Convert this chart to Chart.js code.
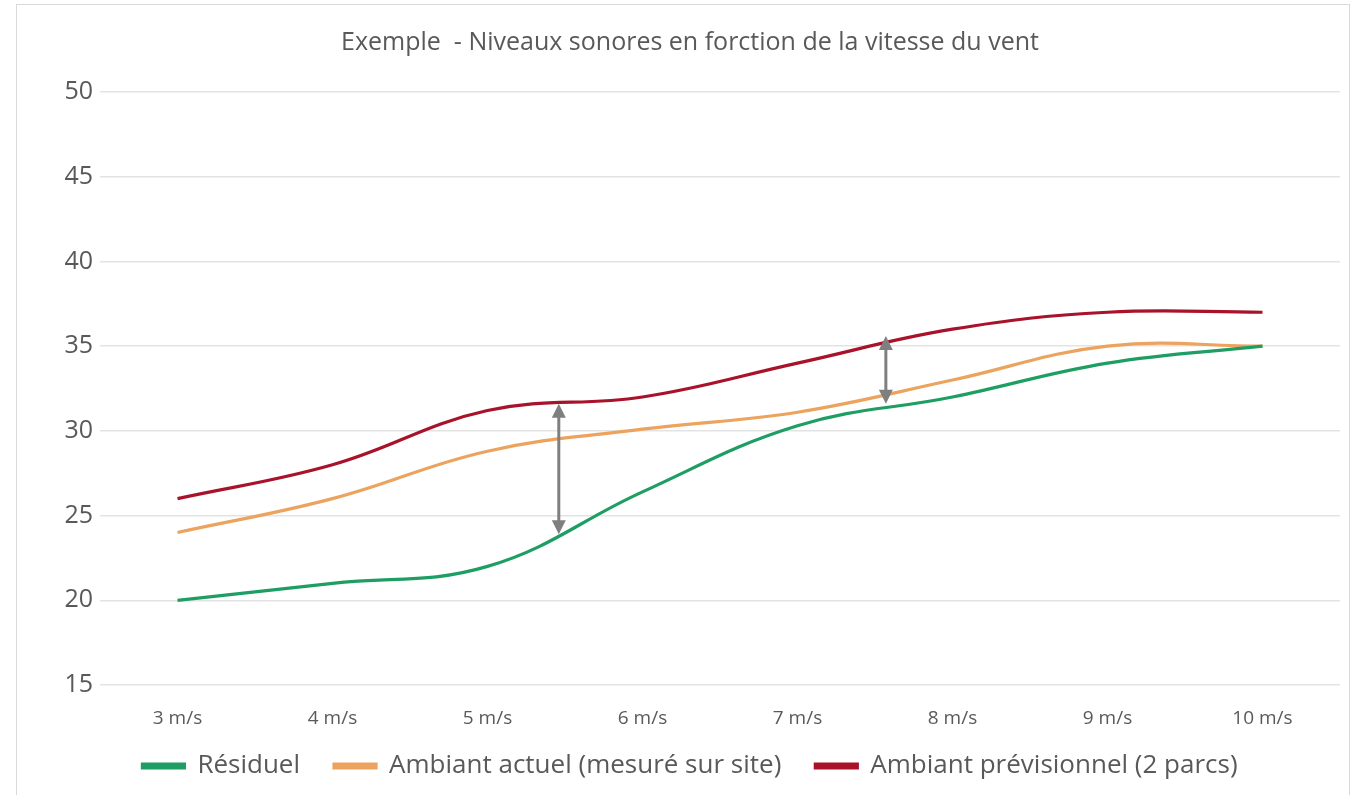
<!DOCTYPE html>
<html>
<head>
<meta charset="utf-8">
<script src="https://cdn.jsdelivr.net/npm/chart.js@4.4.0/dist/chart.umd.min.js"></script>
<style>
html,body{margin:0;padding:0;background:#fff;}
#wrap{position:absolute;left:0;top:0;width:1354px;height:795px;}
</style>
</head>
<body>
<div id="wrap"><canvas id="c" width="1354" height="795"></canvas></div>
<script>
const categories = ['3 m/s','4 m/s','5 m/s','6 m/s','7 m/s','8 m/s','9 m/s','10 m/s'];
const residuel = [20, 21, 22, 26.4, 30.3, 32, 34, 35];
const ambiantActuel = [24, 26, 28.8, 30.1, 31.1, 33, 35, 35];
const ambiantPrevisionnel = [26, 28, 31.2, 32, 34, 36, 37, 37];
const seriesNames = ['Résiduel', 'Ambiant actuel (mesuré sur site)', 'Ambiant prévisionnel (2 parcs)'];
const titleText = 'Exemple  - Niveaux sonores en forction de la vitesse du vent';
const yMin = 15, yMax = 50, yStep = 5;
// double arrows (category index position, top value, bottom value)
const arrowX = [2.46, 4.57];
const arrowTop = [31.6, 35.6];
const arrowBottom = [23.9, 31.6];

const FONT = "'Open Sans', 'Liberation Sans', sans-serif";
const TXT = '#595959';

const framePlugin = {
  id: 'frame',
  beforeDraw(chart) {
    const ctx = chart.ctx;
    ctx.save();
    ctx.fillStyle = '#fff';
    ctx.fillRect(0, 0, chart.width, chart.height);
    ctx.strokeStyle = '#d9d9d9';
    ctx.lineWidth = 1;
    ctx.strokeRect(16.5, 4.5, 1333, 800);
    ctx.restore();
  }
};

// move the legend row to its place under the axis labels
const legendPlacePlugin = {
  id: 'legendPlace',
  afterLayout(chart) {
    const lg = chart.legend;
    if (!lg) return;
    const h = lg.height;
    lg.top = 719;
    lg.bottom = 719 + h;
  }
};

const arrowPlugin = {
  id: 'arrows',
  afterDatasetsDraw(chart) {
    const ctx = chart.ctx;
    const xs = chart.scales.x, ys = chart.scales.y;
    ctx.save();
    ctx.strokeStyle = '#7f7f7f';
    ctx.fillStyle = '#7f7f7f';
    ctx.lineWidth = 3;
    for (let i = 0; i < arrowX.length; i++) {
      const x = xs.getPixelForValue(arrowX[i]);
      const y1 = ys.getPixelForValue(arrowTop[i]);
      const y2 = ys.getPixelForValue(arrowBottom[i]);
      const hl = 14, hw = 7;
      ctx.beginPath();
      ctx.moveTo(x, y1 + hl - 2);
      ctx.lineTo(x, y2 - hl + 2);
      ctx.stroke();
      ctx.beginPath();
      ctx.moveTo(x, y1); ctx.lineTo(x - hw, y1 + hl); ctx.lineTo(x + hw, y1 + hl); ctx.closePath(); ctx.fill();
      ctx.beginPath();
      ctx.moveTo(x, y2); ctx.lineTo(x - hw, y2 - hl); ctx.lineTo(x + hw, y2 - hl); ctx.closePath(); ctx.fill();
    }
    ctx.restore();
  }
};

const colors = ['#1e9e62', '#eba35e', '#a8122a'];
const dataArrays = [residuel, ambiantActuel, ambiantPrevisionnel];

new Chart(document.getElementById('c'), {
  type: 'line',
  data: {
    labels: categories,
    datasets: dataArrays.map((d, i) => ({
      label: seriesNames[i],
      data: d,
      borderColor: colors[i],
      backgroundColor: colors[i],
      borderWidth: 3.2,
      pointRadius: 0,
      tension: 0.4,
      fill: false
    }))
  },
  options: {
    responsive: false,
    animation: false,
    devicePixelRatio: 1,
    layout: { padding: { left: 40, right: 14, top: 18, bottom: -28 } },
    plugins: {
      title: {
        display: true,
        text: titleText,
        color: TXT,
        font: { family: FONT, size: 25, weight: 'normal' },
        padding: { top: 10, bottom: 34 }
      },
      legend: {
        position: 'bottom',
        labels: {
          color: TXT,
          font: { family: FONT, size: 26 },
          boxWidth: 42,
          boxHeight: 4,
          padding: 34
        }
      },
      tooltip: { enabled: false }
    },
    scales: {
      x: {
        offset: true,
        grid: { display: false, drawTicks: false },
        border: { display: false },
        ticks: { color: TXT, font: { family: FONT, size: 19 }, padding: 22.6 }
      },
      y: {
        min: yMin, max: yMax,
        ticks: { stepSize: yStep, color: TXT, font: { family: FONT, size: 25 }, padding: 7 },
        grid: { color: '#e3e3e3', lineWidth: 1.5, drawTicks: false },
        border: { display: false },
        afterFit(s) { s.width = 60; }
      }
    }
  },
  plugins: [framePlugin, legendPlacePlugin, arrowPlugin]
});
</script>
</body>
</html>
